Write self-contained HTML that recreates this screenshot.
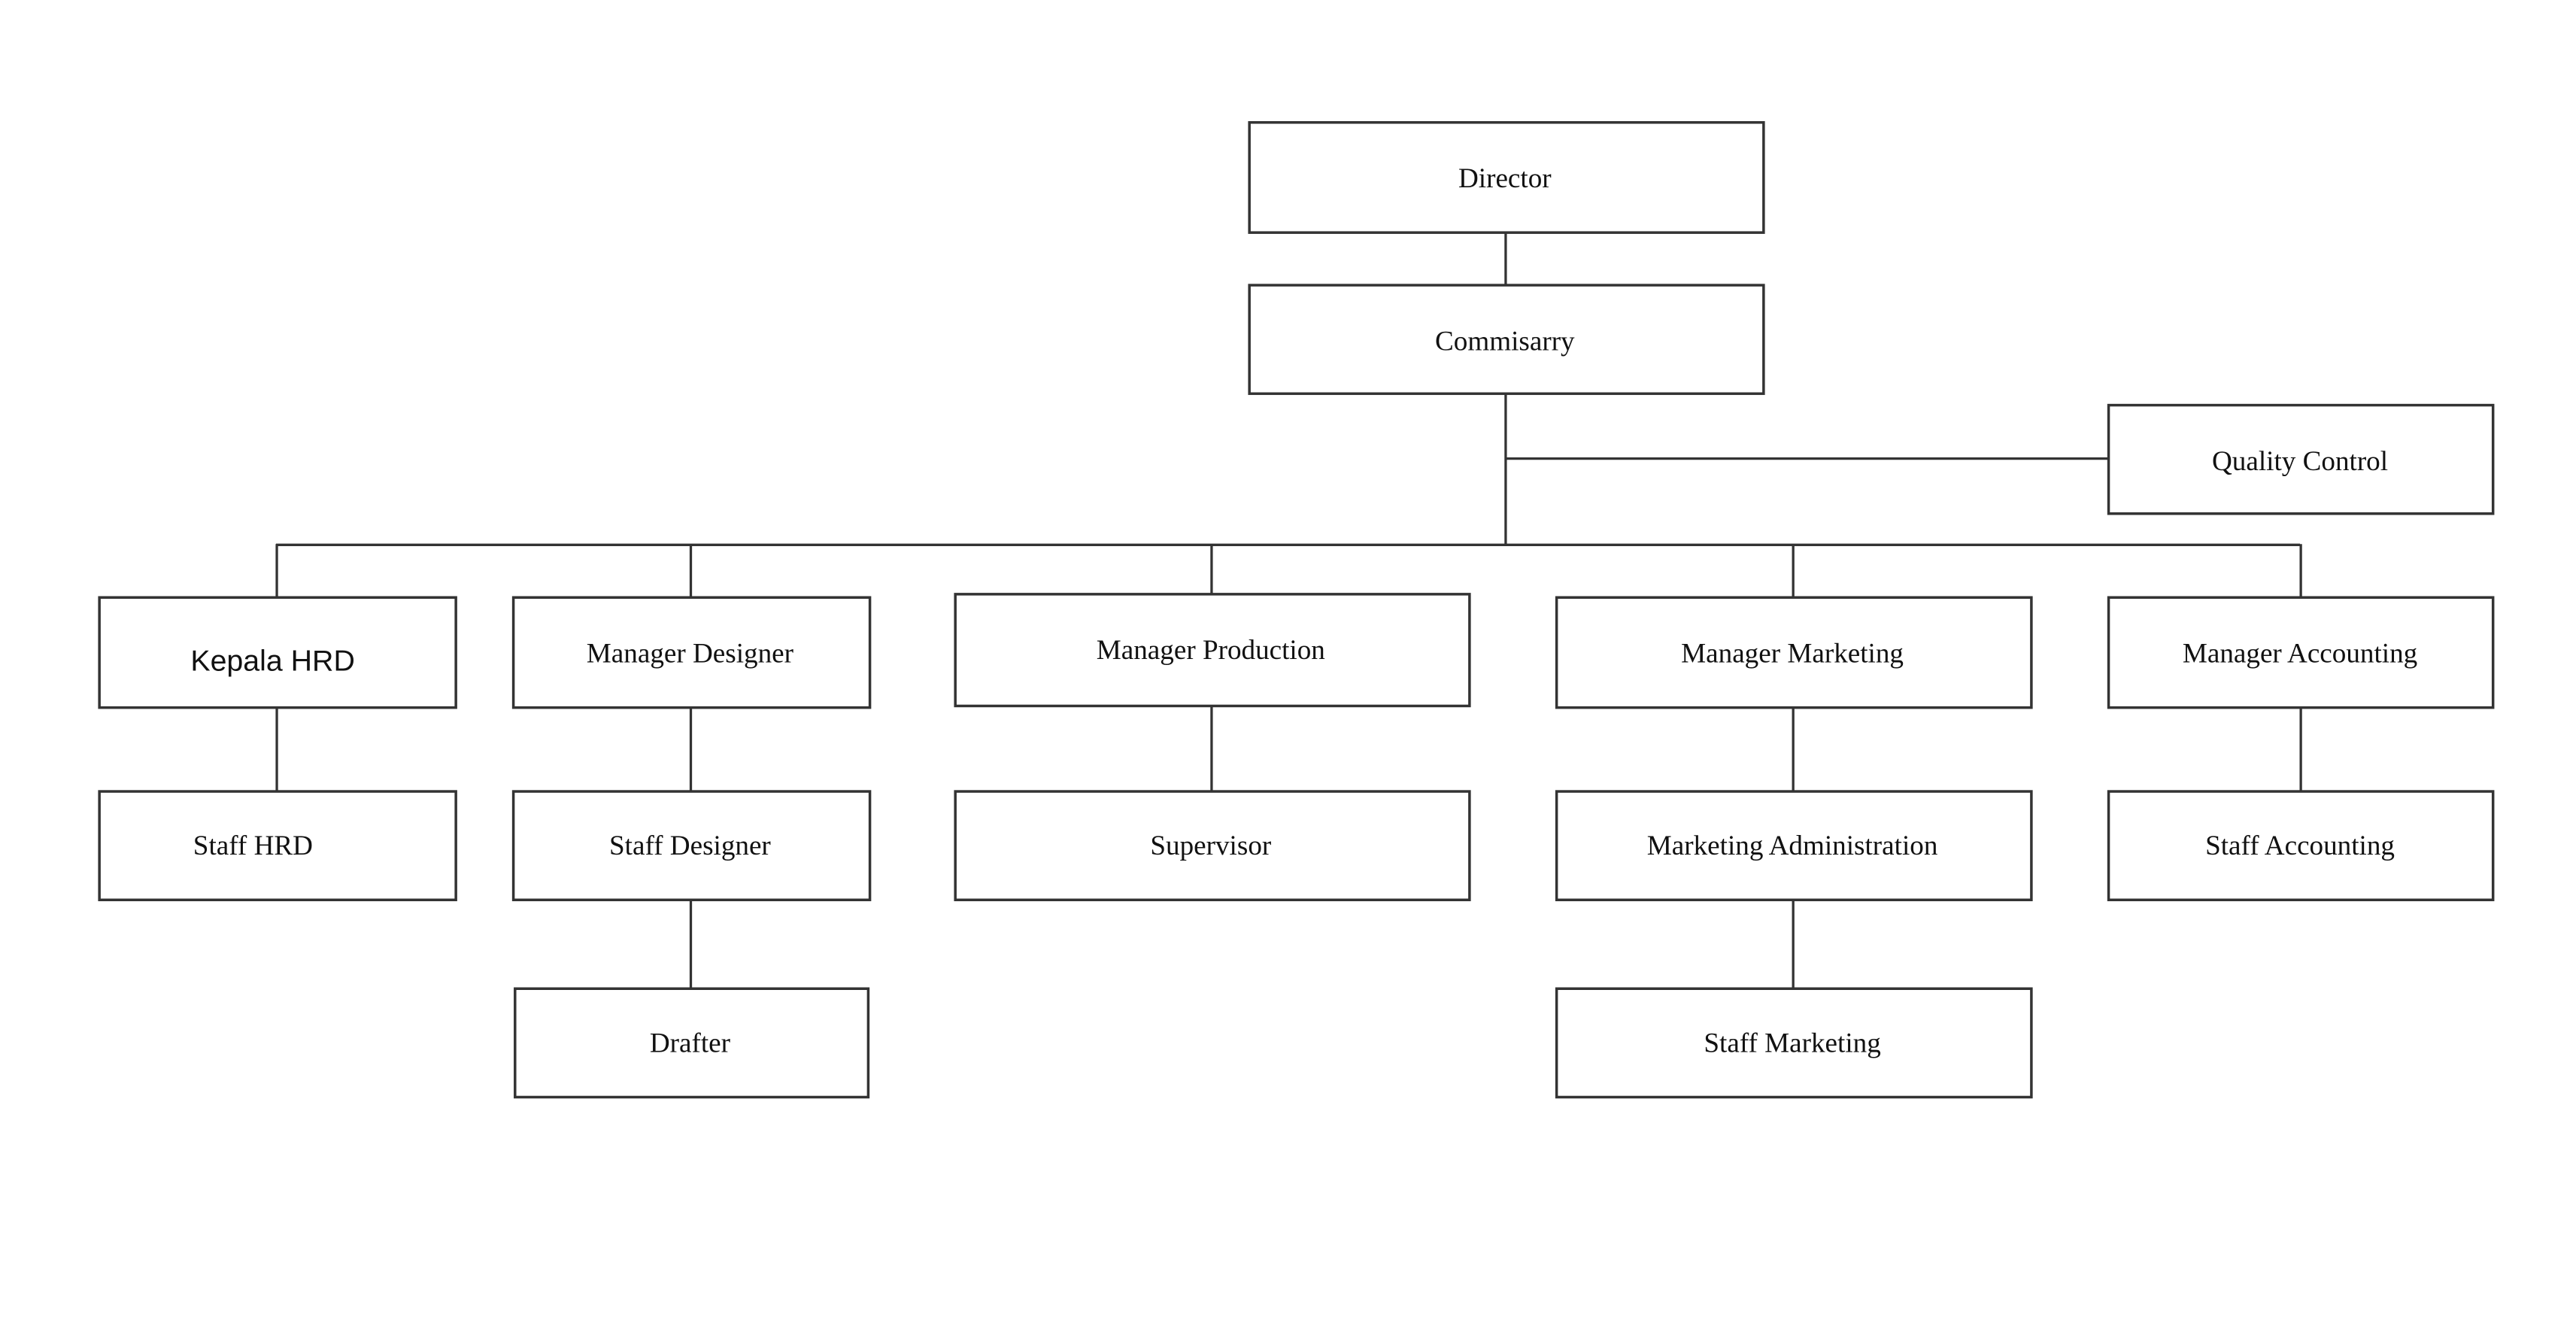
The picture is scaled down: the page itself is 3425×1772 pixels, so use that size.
<!DOCTYPE html>
<html><head><meta charset="utf-8"><style>html,body{margin:0;padding:0;background:#fff}svg{display:block}</style></head>
<body>
<svg width="3425" height="1772" viewBox="0 0 1568 811" preserveAspectRatio="none" xmlns="http://www.w3.org/2000/svg">
<rect width="1568" height="811" fill="#fff"/>
<g stroke="#333" stroke-width="1.5" fill="none">
<line x1="916.5" y1="141" x2="916.5" y2="331"/>
<line x1="916.5" y1="279" x2="1283" y2="279"/>
<line x1="168" y1="331.5" x2="1400" y2="331.5"/>
<line x1="168.5" y1="331" x2="168.5" y2="481"/>
<line x1="420.5" y1="331" x2="420.5" y2="601"/>
<line x1="737.5" y1="331" x2="737.5" y2="481"/>
<line x1="1091.5" y1="331" x2="1091.5" y2="601"/>
<line x1="1400.5" y1="331" x2="1400.5" y2="481"/>
</g>
<g stroke="#333" stroke-width="1.6" fill="#fff">
<rect x="760.5" y="74.5" width="313" height="67"/>
<rect x="760.5" y="173.5" width="313" height="66"/>
<rect x="1283.5" y="246.5" width="234" height="66"/>
<rect x="60.5" y="363.5" width="217" height="67"/>
<rect x="312.5" y="363.5" width="217" height="67"/>
<rect x="581.5" y="361.5" width="313" height="68"/>
<rect x="947.5" y="363.5" width="289" height="67"/>
<rect x="1283.5" y="363.5" width="234" height="67"/>
<rect x="60.5" y="481.5" width="217" height="66"/>
<rect x="312.5" y="481.5" width="217" height="66"/>
<rect x="581.5" y="481.5" width="313" height="66"/>
<rect x="947.5" y="481.5" width="289" height="66"/>
<rect x="1283.5" y="481.5" width="234" height="66"/>
<rect x="313.5" y="601.5" width="215" height="66"/>
<rect x="947.5" y="601.5" width="289" height="66"/>
</g>
<g font-family="'Liberation Serif',serif" font-size="17" fill="#111" text-anchor="middle">
<text x="916" y="114">Director</text>
<text x="916" y="213">Commisarry</text>
<text x="1400" y="286">Quality  Control</text>
<text x="420" y="403">Manager  Designer</text>
<text x="737" y="401">Manager  Production</text>
<text x="1091" y="403">Manager  Marketing</text>
<text x="1400" y="403">Manager  Accounting</text>
<text x="154" y="520">Staff HRD</text>
<text x="420" y="520">Staff Designer</text>
<text x="737" y="520">Supervisor</text>
<text x="1091" y="520">Marketing  Administration</text>
<text x="1400" y="520">Staff Accounting</text>
<text x="420" y="640">Drafter</text>
<text x="1091" y="640">Staff Marketing</text>
</g>
<text x="166" y="408" font-family="'Liberation Sans',sans-serif" font-size="18" fill="#111" text-anchor="middle">Kepala HRD</text>
</svg>
</body></html>
